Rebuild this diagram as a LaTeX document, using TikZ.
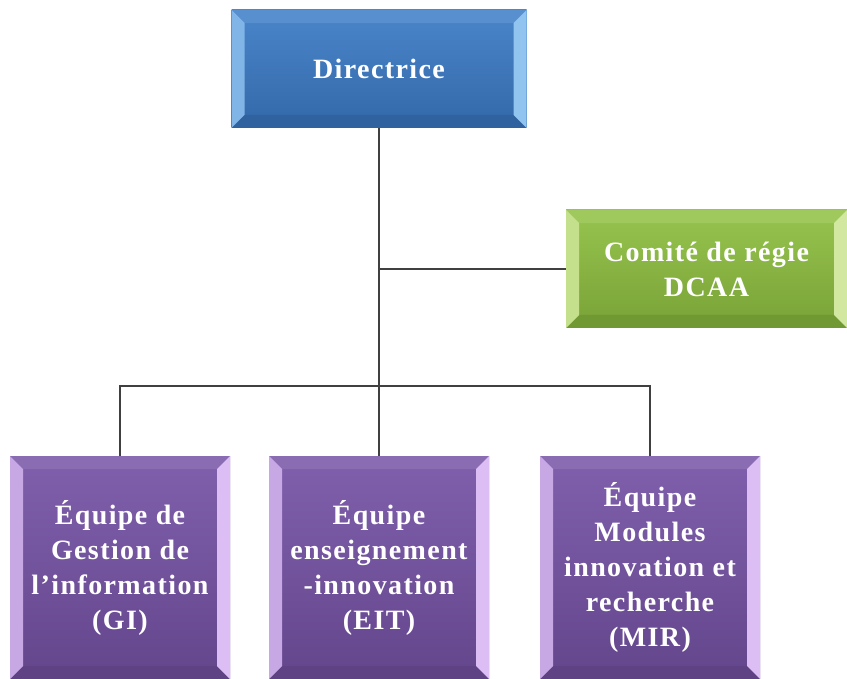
\documentclass[tikz,border=0pt]{standalone}
\usepackage{fontspec}
\setmainfont{Liberation Serif}
\newfontfamily\boxfont[LetterSpace=5]{Liberation Serif}
\definecolor{dirblue}{HTML}{3B7BC6}
\definecolor{dirlight}{HTML}{92C4F0}
\definecolor{comgreen}{HTML}{8EBF40}
\definecolor{comlight}{HTML}{D2E8A0}
\definecolor{teampurple}{HTML}{7552A5}
\definecolor{teamlight}{HTML}{DCBDF4}
\definecolor{linkgray}{HTML}{404040}
\tikzset{
  box/.style={inner sep=0pt, outer sep=0pt, align=center, text=white,
    font=\boxfont\bfseries\fontsize{28}{35}\selectfont},
  bevel/.style 2 args={top color=#1!92!white, bottom color=#1!85!black,
    path picture={
      \path (path picture bounding box.north west) coordinate (nw)
            (path picture bounding box.north east) coordinate (ne)
            (path picture bounding box.south west) coordinate (sw)
            (path picture bounding box.south east) coordinate (se);
      \fill[#1!85!white] (nw) -- (ne) -- ([shift={(-13pt,-13pt)}]ne)
        -- ([shift={(13pt,-13pt)}]nw) -- cycle;
      \fill[#1!80!black] (sw) -- (se) -- ([shift={(-13pt,13pt)}]se)
        -- ([shift={(13pt,13pt)}]sw) -- cycle;
      \fill[#2!80!#1] (nw) -- (sw) -- ([shift={(13pt,13pt)}]sw)
        -- ([shift={(13pt,-13pt)}]nw) -- cycle;
      \fill[#2] (ne) -- (se) -- ([shift={(-13pt,13pt)}]se)
        -- ([shift={(-13pt,-13pt)}]ne) -- cycle;
    }},
  link/.style={draw=linkgray, line width=2.8pt},
}
\begin{document}
\begin{tikzpicture}[x=1pt, y=-1pt]
\useasboundingbox (0,0) rectangle (847,679);
% director and steering committee
\node[box, bevel={dirblue}{dirlight}, minimum width=295pt, minimum height=118pt]
  (dir) at (379,69) {Directrice};
\node[box, bevel={comgreen}{comlight}, minimum width=281pt, minimum height=118pt]
  (com) at (706.5,269) {Comité de régie\\DCAA};
% teams
\node[box, bevel={teampurple}{teamlight}, minimum width=220pt, minimum height=223pt]
  (gi) at (120,567.5) {Équipe de\\Gestion de\\l’information\\(GI)};
\node[box, bevel={teampurple}{teamlight}, minimum width=220pt, minimum height=223pt]
  (eit) at (379,567.5) {Équipe\\enseignement\\-innovation\\(EIT)};
\node[box, bevel={teampurple}{teamlight}, minimum width=220pt, minimum height=223pt]
  (mir) at (650,567.5) {Équipe\\Modules\\innovation et\\recherche\\(MIR)};
% links
\coordinate (bus) at (379,386);
\coordinate (side) at (dir.south |- com.west);
\draw[link] (dir.south) -- (bus);
\draw[link] (side) -- (com.west);
\draw[link] (gi.north) |- (bus) -| (mir.north);
\draw[link] (bus) -- (eit.north);
\end{tikzpicture}
\end{document}
